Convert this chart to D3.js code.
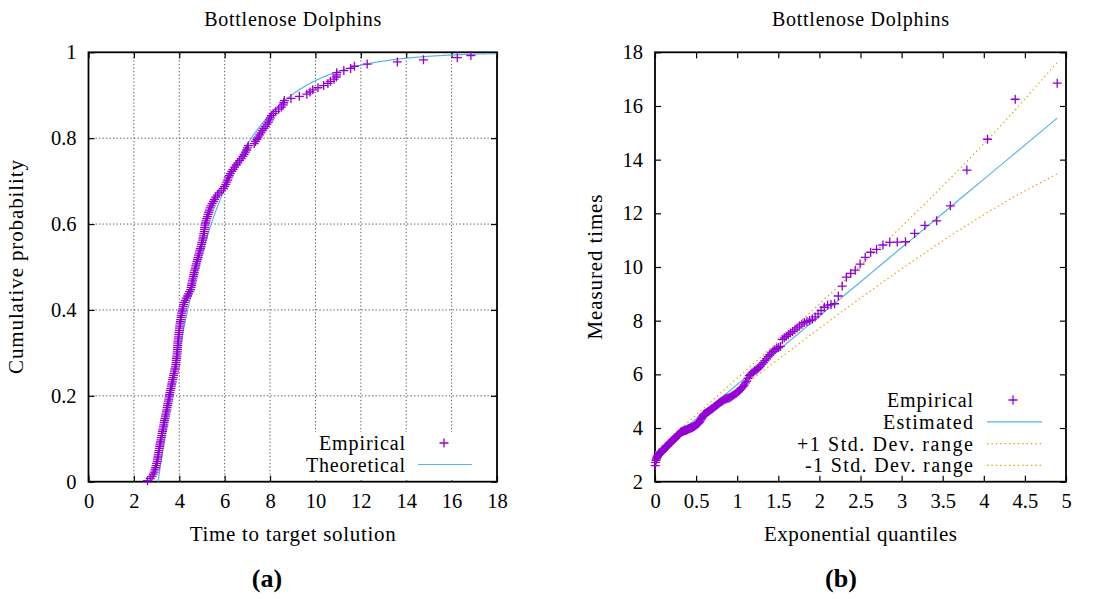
<!DOCTYPE html>
<html>
<head>
<meta charset="utf-8">
<script src="https://cdn.jsdelivr.net/npm/d3@7/dist/d3.min.js"></script>
<style>
body { margin: 0; background: #fff; }
svg text { font-family: "Liberation Serif", "Times New Roman", serif; fill: #000; }
</style>
</head>
<body>
<div id="chart"></div>
<script>
// measured run times (sorted); the last run lies beyond both ranges
var times = [
  2.60, 2.72, 2.80, 2.85, 2.89, 2.93, 2.96, 2.98, 3.00, 3.03,
  3.04, 3.06, 3.07, 3.09, 3.10, 3.12, 3.14, 3.15, 3.17, 3.19,
  3.21, 3.23, 3.24, 3.26, 3.28, 3.30, 3.32, 3.33, 3.35, 3.37,
  3.39, 3.41, 3.43, 3.45, 3.46, 3.48, 3.50, 3.52, 3.54, 3.55,
  3.57, 3.59, 3.61, 3.63, 3.65, 3.67, 3.69, 3.71, 3.73, 3.75,
  3.77, 3.79, 3.81, 3.83, 3.85, 3.86, 3.87, 3.88, 3.89, 3.90,
  3.91, 3.92, 3.92, 3.93, 3.94, 3.95, 3.96, 3.97, 3.98, 3.99,
  4.00, 4.01, 4.02, 4.03, 4.05, 4.06, 4.08, 4.09, 4.11, 4.13,
  4.15, 4.17, 4.19, 4.22, 4.26, 4.31, 4.36, 4.41, 4.46, 4.50,
  4.52, 4.54, 4.56, 4.58, 4.60, 4.62, 4.64, 4.66, 4.68, 4.71,
  4.73, 4.75, 4.78, 4.80, 4.83, 4.85, 4.88, 4.90, 4.93, 4.96,
  4.98, 5.00, 5.03, 5.05, 5.07, 5.08, 5.10, 5.11, 5.12, 5.14,
  5.16, 5.18, 5.21, 5.24, 5.27, 5.30, 5.33, 5.36, 5.40, 5.45,
  5.50, 5.55, 5.60, 5.68, 5.75, 5.85, 5.95, 6.00, 6.05, 6.09,
  6.13, 6.16, 6.20, 6.25, 6.31, 6.37, 6.44, 6.51, 6.58, 6.66,
  6.73, 6.80, 6.86, 6.92, 6.97, 7.00, 7.04, 7.30, 7.36, 7.42,
  7.48, 7.54, 7.60, 7.66, 7.73, 7.80, 7.87, 7.93, 7.97, 8.01,
  8.06, 8.14, 8.25, 8.38, 8.50, 8.58, 8.60, 8.63, 8.92, 9.29,
  9.62, 9.76, 9.88, 10.11, 10.36, 10.55, 10.66, 10.82, 10.92, 10.93,
  10.94, 11.25, 11.55, 11.72, 12.28, 13.61, 14.76, 16.25, 16.85, 19.6
];

// fitted shifted exponential
var mu = 3.07;
var lambda = 2.55;

var xTicksA = [0, 2, 4, 6, 8, 10, 12, 14, 16, 18];
var yTicksA = [0, 0.2, 0.4, 0.6, 0.8, 1];
var xTicksB = [0, 0.5, 1, 1.5, 2, 2.5, 3, 3.5, 4, 4.5, 5];
var yTicksB = [2, 4, 6, 8, 10, 12, 14, 16, 18];

var legendA = ["Empirical", "Theoretical"];
var legendB = ["Empirical", "Estimated", "+1 Std. Dev. range", "-1 Std. Dev. range"];

var purple = "#9400d3", blue = "#56b4e9", orange = "#e69f00";

// widths of the labels in the reference (its font runs wider than Times)
var textW = {
  "Bottlenose Dolphins": 177, "Time to target solution": 206, "Exponential quantiles": 193,
  "Cumulative probability": 214, "Measured times": 145, "Empirical": 86, "Theoretical": 99,
  "Estimated": 90, "+1 Std. Dev. range": 176, "-1 Std. Dev. range": 168
};

var svg = d3.select("#chart").append("svg")
  .attr("width", 1096)
  .attr("height", 599);

var n = times.length;
var pts = times.map(function (t, i) {
  var p = (i + 0.5) / n;
  var q = -Math.log(1 - p);
  var dev = lambda * Math.sqrt(p / ((1 - p) * n));
  return {t: t, p: p, q: q, dev: dev};
});

var fmt = d3.format("~g");
var plus = "M-4.5,0H4.5M0,-4.5V4.5";

function label(sel, s) {
  return sel.attr("textLength", textW[s]).attr("lengthAdjust", "spacing").text(s);
}

function frame(x, y, xt, yt, grid, title, xlab, ylab, ylabX, cap, capX) {
  var g = svg.append("g");
  var x0 = x.range()[0], x1 = x.range()[1], y0 = y.range()[0], y1 = y.range()[1];

  if (grid) {
    g.append("g").selectAll("line").data(xt.slice(1, -1)).enter().append("line")
      .attr("x1", d => x(d)).attr("x2", d => x(d)).attr("y1", y0).attr("y2", y1)
      .attr("stroke", "#555").attr("stroke-dasharray", "1.3,2.2");
    g.append("g").selectAll("line").data(yt.slice(1, -1)).enter().append("line")
      .attr("y1", d => y(d)).attr("y2", d => y(d)).attr("x1", x0).attr("x2", x1)
      .attr("stroke", "#555").attr("stroke-dasharray", "1.3,2.2");
  }

  var ax = [
    g.append("g").attr("transform", `translate(0,${y0})`)
      .call(d3.axisBottom(x).tickValues(xt).tickSize(-6).tickPadding(12).tickFormat(fmt)),
    g.append("g").attr("transform", `translate(0,${y1})`)
      .call(d3.axisTop(x).tickValues(xt).tickSize(-6).tickFormat("")),
    g.append("g").attr("transform", `translate(${x0},0)`)
      .call(d3.axisLeft(y).tickValues(yt).tickSize(-6).tickPadding(12).tickFormat(fmt)),
    g.append("g").attr("transform", `translate(${x1},0)`)
      .call(d3.axisRight(y).tickValues(yt).tickSize(-6).tickFormat(""))
  ];
  ax.forEach(function (a) {
    a.attr("font-family", null);
    a.select(".domain").remove();
    a.selectAll(".tick line").attr("stroke", "#000").attr("stroke-width", 1.2);
    a.selectAll(".tick text").attr("font-size", 20.5);
  });

  g.append("rect")
    .attr("x", x0).attr("y", y1).attr("width", x1 - x0).attr("height", y0 - y1)
    .attr("fill", "none").attr("stroke", "#000").attr("stroke-width", 1.8);

  var cx = (x0 + x1) / 2;
  g.append("text").attr("x", cx).attr("y", 26).attr("text-anchor", "middle")
    .attr("font-size", 20).call(label, title);
  g.append("text").attr("x", cx).attr("y", 541).attr("text-anchor", "middle")
    .attr("font-size", 21).call(label, xlab);
  g.append("text").attr("transform", `translate(${ylabX},${(y0 + y1) / 2}) rotate(-90)`)
    .attr("text-anchor", "middle").attr("font-size", 21).call(label, ylab);
  g.append("text").attr("x", capX).attr("y", 587).attr("text-anchor", "middle")
    .attr("font-size", 26).attr("font-weight", "bold").text(cap);
  return g;
}

// ---------- (a) empirical vs theoretical distribution ----------
var xA = d3.scaleLinear().domain([0, 18]).range([88.5, 497]);
var yA = d3.scaleLinear().domain([0, 1]).range([481.7, 52.3]);

var gA = frame(xA, yA, xTicksA, yTicksA, true, "Bottlenose Dolphins",
  "Time to target solution", "Cumulative probability", 23, "(a)", 267);

// key box hides the grid behind it
gA.insert("rect", "rect")
  .attr("x", 306).attr("y", 432).attr("width", 190).attr("height", 48.5).attr("fill", "#fff");

var curve = d3.range(mu, 18.001, 0.05).map(t => [t, 1 - Math.exp(-(t - mu) / lambda)]);
gA.append("path").datum(curve)
  .attr("d", d3.line().x(d => xA(d[0])).y(d => yA(d[1])))
  .attr("fill", "none").attr("stroke", blue).attr("stroke-width", 1.2);

gA.append("g").selectAll("path").data(pts.filter(d => d.t <= 18)).enter().append("path")
  .attr("d", plus)
  .attr("transform", d => `translate(${xA(d.t)},${yA(d.p)})`)
  .attr("stroke", purple).attr("stroke-width", 1.3).attr("fill", "none");

var keyA = gA.append("g");
legendA.forEach(function (s, i) {
  var yy = 443 + i * 21.5;
  keyA.append("text").attr("x", 405).attr("y", yy + 7).attr("text-anchor", "end")
    .attr("font-size", 20).call(label, s);
  if (i === 0) {
    keyA.append("path").attr("d", plus).attr("transform", `translate(444,${yy})`)
      .attr("stroke", purple).attr("stroke-width", 1.3);
  } else {
    keyA.append("line").attr("x1", 418).attr("x2", 472).attr("y1", yy).attr("y2", yy)
      .attr("stroke", blue).attr("stroke-width", 1.2);
  }
});

// ---------- (b) Q-Q plot ----------
var xB = d3.scaleLinear().domain([0, 5]).range([655, 1066]);
var yB = d3.scaleLinear().domain([2, 18]).range([481.7, 52.3]);

var gB = frame(xB, yB, xTicksB, yTicksB, false, "Bottlenose Dolphins",
  "Exponential quantiles", "Measured times", 602, "(b)", 841);

var vis = pts.filter(d => d.q <= 5);
var line = d3.line().x(d => xB(d[0])).y(d => yB(d[1]));

gB.append("path").datum(vis.map(d => [d.q, mu + lambda * d.q + d.dev]))
  .attr("d", line).attr("fill", "none").attr("stroke", orange)
  .attr("stroke-width", 1.2).attr("stroke-dasharray", "1.4,3");
gB.append("path").datum(vis.map(d => [d.q, mu + lambda * d.q - d.dev]))
  .attr("d", line).attr("fill", "none").attr("stroke", orange)
  .attr("stroke-width", 1.2).attr("stroke-dasharray", "1.4,3");
gB.append("path").datum(vis.map(d => [d.q, mu + lambda * d.q]))
  .attr("d", line).attr("fill", "none").attr("stroke", blue).attr("stroke-width", 1.2);

gB.append("g").selectAll("path").data(vis).enter().append("path")
  .attr("d", plus)
  .attr("transform", d => `translate(${xB(d.q)},${yB(d.t)})`)
  .attr("stroke", purple).attr("stroke-width", 1.3).attr("fill", "none");

var keyB = gB.append("g");
legendB.forEach(function (s, i) {
  var yy = 400 + i * 21.8;
  keyB.append("text").attr("x", 973).attr("y", yy + 7).attr("text-anchor", "end")
    .attr("font-size", 20).call(label, s);
  if (i === 0) {
    keyB.append("path").attr("d", plus).attr("transform", `translate(1013,${yy})`)
      .attr("stroke", purple).attr("stroke-width", 1.3);
  } else {
    keyB.append("line").attr("x1", 987).attr("x2", 1042).attr("y1", yy).attr("y2", yy)
      .attr("stroke", i === 1 ? blue : orange).attr("stroke-width", 1.2)
      .attr("stroke-dasharray", i === 1 ? null : "1.4,3");
  }
});
</script>
</body>
</html>
